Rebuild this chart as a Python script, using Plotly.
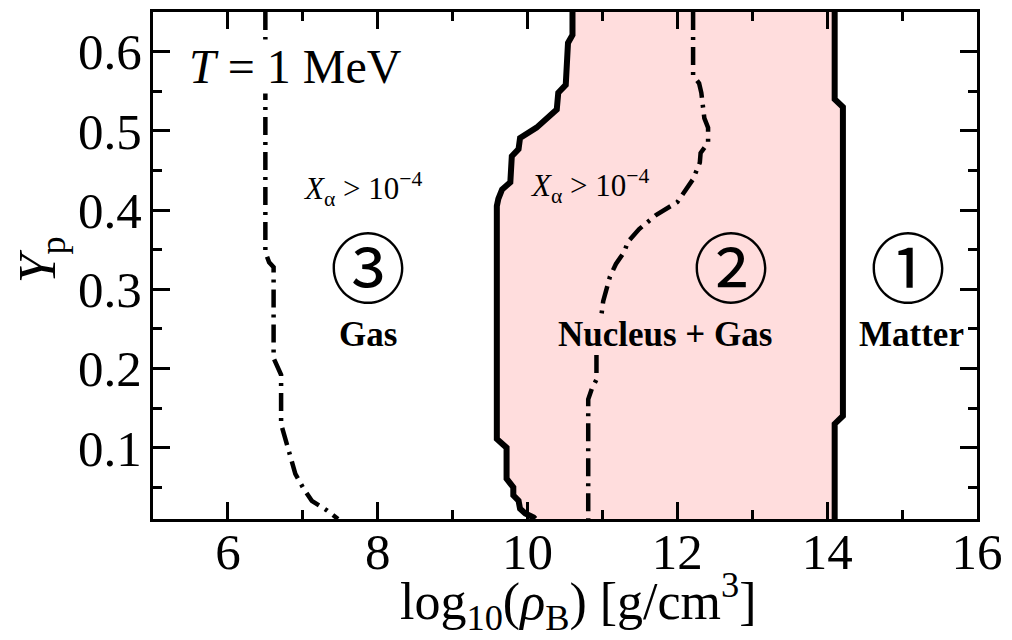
import plotly.graph_objects as go

# Boundary between the gas phase and the nucleus + gas phase (top -> bottom)
gas_edge_x = [10.60, 10.60, 10.54, 10.51, 10.41, 10.39, 10.12, 9.90, 9.88, 9.79,
              9.77, 9.66, 9.61, 9.59, 9.59, 9.72, 9.72, 9.81, 9.81, 9.88, 9.90,
              9.97, 10.08, 10.10]
gas_edge_y = [0.650, 0.621, 0.611, 0.558, 0.548, 0.527, 0.504, 0.491, 0.477, 0.468,
              0.435, 0.426, 0.414, 0.405, 0.111, 0.100, 0.061, 0.050, 0.040, 0.033,
              0.023, 0.017, 0.012, 0.010]

# Boundary between the nucleus + gas phase and uniform matter (bottom -> top)
matter_edge_x = [14.10, 14.10, 14.21, 14.21, 14.10, 14.10]
matter_edge_y = [0.010, 0.130, 0.140, 0.530, 0.540, 0.650]

# X_alpha = 1e-4 contour in the gas region
alpha_gas_x = [6.50, 6.50, 6.55, 6.61, 6.61, 6.71, 6.71, 6.81, 6.90, 7.00, 7.12, 7.32, 7.47]
alpha_gas_y = [0.650, 0.347, 0.334, 0.328, 0.213, 0.192, 0.130, 0.096, 0.067, 0.050,
               0.033, 0.021, 0.010]

# X_alpha = 1e-4 contour inside the nucleus + gas region
alpha_nuc_x = [12.21, 12.21, 12.29, 12.32, 12.36, 12.41, 12.41, 12.31, 12.30, 12.21,
               12.00, 11.72, 11.49, 11.34, 11.29, 11.18, 11.10, 11.05, 11.01, 10.92,
               10.92, 10.86, 10.81, 10.81]
alpha_nuc_y = [0.650, 0.570, 0.560, 0.548, 0.516, 0.504, 0.485, 0.472, 0.460, 0.439,
               0.410, 0.394, 0.376, 0.360, 0.347, 0.332, 0.316, 0.297, 0.285, 0.219,
               0.186, 0.175, 0.161, 0.010]

x_ticks = [6, 8, 10, 12, 14, 16]
y_ticks = [0.1, 0.2, 0.3, 0.4, 0.5, 0.6]

PINK = "rgb(255,221,221)"
SERIF = "Liberation Serif"
CJK = "Noto Sans CJK JP"

fig = go.Figure()

# shaded nucleus + gas region
fig.add_trace(go.Scatter(
    x=gas_edge_x + matter_edge_x, y=gas_edge_y + matter_edge_y,
    mode="lines", fill="toself", fillcolor=PINK,
    line=dict(width=0, color=PINK), hoverinfo="skip", showlegend=False))

for xs, ys in [(gas_edge_x, gas_edge_y), (matter_edge_x, matter_edge_y)]:
    fig.add_trace(go.Scatter(x=xs, y=ys, mode="lines",
                             line=dict(color="black", width=6),
                             showlegend=False))

for xs, ys in [(alpha_gas_x, alpha_gas_y), (alpha_nuc_x, alpha_nuc_y)]:
    fig.add_trace(go.Scatter(x=xs, y=ys, mode="lines",
                             line=dict(color="black", width=4.5,
                                       dash="18px,7px,3px,7px"),
                             showlegend=False))

axis_common = dict(
    showline=True, linecolor="black", linewidth=3, mirror="allticks",
    ticks="inside", ticklen=17, tickwidth=2.5, tickcolor="black",
    showgrid=False, zeroline=False,
    tickfont=dict(family=SERIF, size=51, color="black"),
)

fig.update_xaxes(range=[5, 16], tickvals=x_ticks, ticktext=[str(v) for v in x_ticks],
                 minor=dict(dtick=1, tick0=5, ticks="inside", ticklen=9,
                            tickwidth=2.5, tickcolor="black", showgrid=False),
                 ticklabelstandoff=-14,
                 **axis_common)
fig.update_yaxes(range=[0.01, 0.65], tickvals=y_ticks,
                 ticktext=[f"{v:.1f}" for v in y_ticks],
                 minor=dict(dtick=0.05, tick0=0, ticks="inside", ticklen=9,
                            tickwidth=2.5, tickcolor="black", showgrid=False),
                 ticklabelstandoff=-2,
                 **axis_common)

ann = []
ann.append(dict(x=6.90, y=0.581, xref="x", yref="y", showarrow=False,
                text="<i>T</i> = 1 MeV", bgcolor="white", borderpad=0,
                font=dict(family=SERIF, size=48, color="black")))
ann.append(dict(x=7.80, y=0.426, xref="x", yref="y", showarrow=False,
                text="<i>X</i><sub>α</sub> > 10<sup>−4</sup>",
                font=dict(family=SERIF, size=31, color="black")))
ann.append(dict(x=10.83, y=0.430, xref="x", yref="y", showarrow=False,
                text="<i>X</i><sub>α</sub> > 10<sup>−4</sup>",
                font=dict(family=SERIF, size=31, color="black")))

circle_pos = {"③": 7.87, "②": 12.72, "①": 15.08}
for label, name, cx, bg in [("③", "Gas", 7.87, None),
                            ("②", "Nucleus + Gas", 11.84, PINK),
                            ("①", "Matter", 15.12, None)]:
    ann.append(dict(x=circle_pos[label], y=0.332, xref="x", yref="y", showarrow=False,
                    text=label, font=dict(family=CJK, size=76, color="black")))
    a = dict(x=cx, y=0.243, xref="x", yref="y", showarrow=False,
             text=f"<b>{name}</b>", borderpad=0,
             font=dict(family=SERIF, size=35, color="black"))
    if bg:
        a["bgcolor"] = bg
    ann.append(a)

# axis titles
ann.append(dict(x=0.516, y=-0.236, xref="paper", yref="paper", showarrow=False,
                xanchor="center", yanchor="bottom", borderpad=0,
                text="log<sub>10</sub>(<i>ρ</i><sub>B</sub>) [g/cm<sup>3</sup>]",
                font=dict(family=SERIF, size=52, color="black")))
ann.append(dict(x=-0.136, y=0.512, xref="paper", yref="paper", showarrow=False,
                xanchor="center", yanchor="middle", textangle=-90,
                text="<i>Y</i><sub>p</sub>",
                font=dict(family=SERIF, size=52, color="black")))

fig.update_layout(
    width=1012, height=640,
    margin=dict(l=153, r=28, t=9, b=121),
    paper_bgcolor="white", plot_bgcolor="white",
    annotations=ann, showlegend=False,
)

fig.write_html("out.html")
